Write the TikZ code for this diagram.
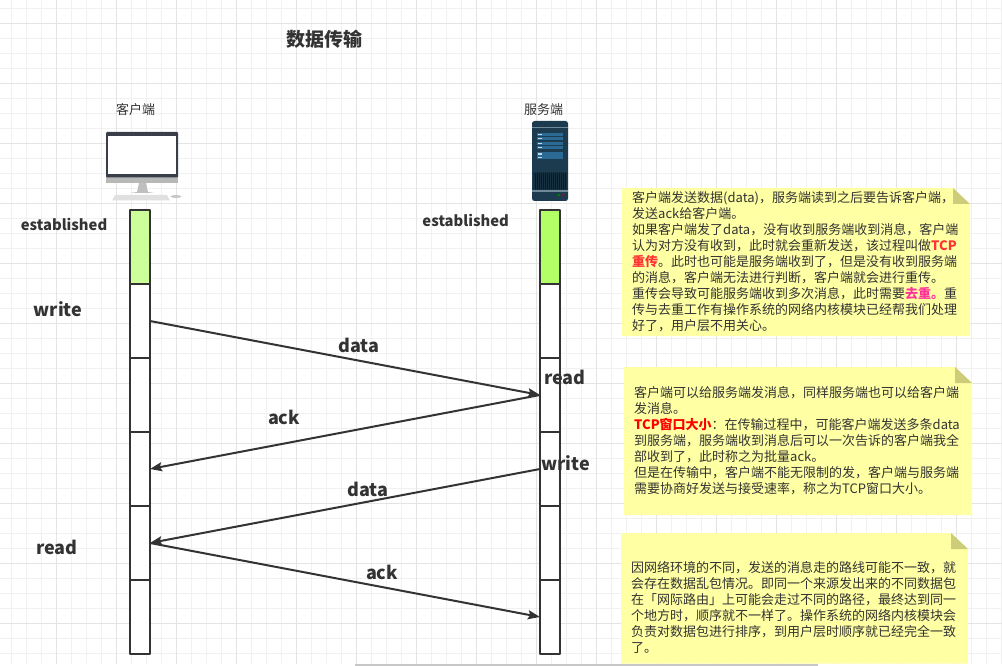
\documentclass[tikz,border=0pt]{standalone}
\usepackage{fontspec}
\setmainfont{Noto Sans CJK SC}
\usetikzlibrary{positioning,arrows.meta}

\definecolor{inkc}{HTML}{333333}
\definecolor{gridminor}{HTML}{F1F1F1}
\definecolor{gridmajor}{HTML}{E4E4E4}
\definecolor{notefill}{HTML}{FFFFA3}
\definecolor{notefold}{HTML}{CCCC7A}
\definecolor{greenc}{HTML}{CCFF99}
\definecolor{greens}{HTML}{B3FF66}
\definecolor{tcpred}{HTML}{FF3333}
\definecolor{dedupc}{HTML}{FF3399}
\definecolor{racklight}{HTML}{6E8A9A}
\definecolor{rackbody}{HTML}{1C3B4E}
\definecolor{rackbar}{HTML}{2A6A94}
\definecolor{rackgrill}{HTML}{17303F}
\definecolor{rackslot}{HTML}{0A1A24}

\tikzset{
    cell/.style={draw=inkc, line width=2pt, fill=white, minimum width=20pt, minimum height=74pt, inner sep=0pt, outer sep=0pt},
    msg/.style={draw=inkc, line width=2pt, -{Stealth[length=12pt,width=9pt,inset=2pt]}},
    biglabel/.style={text=inkc, inner sep=0pt, font=\fontsize{18}{20}\selectfont\bfseries},
    statelabel/.style={text=inkc, inner sep=0pt, font=\fontsize{14.8}{16}\selectfont\bfseries},
    hostlabel/.style={text=inkc, inner sep=0pt, font=\fontsize{13}{15}\selectfont},
    notetext/.style={text=inkc, inner sep=0pt, anchor=west, align=left, font=\fontsize{13}{16}\selectfont},
}

% paper of a note: left, top, right, bottom
\newcommand{\notepaper}[4]{
    \fill[notefill] (#1,#2) -- (#3-17,#2) -- (#3,#2+16) -- (#3,#4) -- (#1,#4) -- cycle;
    \fill[notefold] (#3-17,#2) -- (#3,#2+16) -- (#3-17,#2+16) -- cycle;
}

\begin{document}
\begin{tikzpicture}[x=1pt, y=-1pt, line join=round]
    \useasboundingbox (0,0) rectangle (1002,666);

    % grid
    \foreach \gx in {11.7,26.7,...,1002}
        \draw[gridminor, line width=1pt] (\gx,0) -- (\gx,664);
    \foreach \gy in {8.3,23.3,...,664}
        \draw[gridminor, line width=1pt] (0,\gy) -- (1002,\gy);
    \foreach \gx in {56.7,116.7,...,1002}
        \draw[gridmajor, line width=1pt] (\gx,0) -- (\gx,664);
    \foreach \gy in {23.3,83.3,...,664}
        \draw[gridmajor, line width=1pt] (0,\gy) -- (1002,\gy);
    \draw[black!22, line width=1.2pt] (355,665) -- (818,665);

    \node[text=inkc, inner sep=0pt, font=\fontsize{19}{21}\selectfont\bfseries] (title) at (324,39.5) {数据传输};
    \node[hostlabel] (clientname) at (135.5,110) {客户端};
    \node[hostlabel] (servername) at (543.5,110) {服务端};

    % client computer
    \fill[black!25] (130,193) -- (137,192) -- (139,183) -- (146,183) -- (148,192) -- (154,193) -- cycle;
    \fill[black!12] (115,195) -- (167,195) -- (170,200.5) -- (112,200.5) -- cycle;
    \fill[black!22] (176,196.5) ellipse [x radius=5.5, y radius=1.5];
    \fill[black!28] (106,176) rectangle (178,183);
    \fill[rounded corners=1pt, fill={rgb,255:red,58;green,61;blue,74}] (106,132) rectangle (178,177.5);
    \fill[white] (108,136) rectangle (176,174);

    % server
    \fill[rounded corners=2.5pt, fill=rackbody] (532,121) rectangle (568,201);
    \fill[racklight] (532,127) rectangle (568,128.5);
    \fill[racklight] (532,190.5) rectangle (568,192);
    \fill[rackgrill] (533,172) rectangle (567,190);
    \foreach \gx in {535,537,...,566}
        \draw[rackslot, line width=0.7pt] (\gx,173) -- (\gx,189);
    \foreach \gy in {132.7,136.7,141.7,145.7,152.3,156.2} {
        \fill[rackbar] (537,\gy) rectangle (563,\gy+3.3);
        \fill[white!75!rackbar] (537.7,\gy+1) rectangle (542,\gy+2.3);
    }
    \fill[green!55!black] (558.7,195) circle (1.2);
    \fill[red!75!black] (563.3,195) circle (1.2);

    % client column
    \node[cell, fill=greenc] (c1) at (140,247) {};
    \foreach \i/\j in {2/1,3/2,4/3,5/4,6/5}
        \node[cell, below=0pt of c\j] (c\i) {};

    % server column
    \node[cell, fill=greens] (s1) at (550,247) {};
    \foreach \i/\j in {2/1,3/2,4/3,5/4,6/5}
        \node[cell, below=0pt of s\j] (s\i) {};

    \draw[msg] (c2.east) -- (s3.west);
    \draw[msg] (s3.west) -- (c4.east);
    \draw[msg] (s4.west) -- (c5.east);
    \draw[msg] (c5.east) -- (s6.west);

    \node[statelabel] (estc) at (64,224) {established};
    \node[statelabel] (ests) at (465.7,220.7) {established};
    \node[biglabel] (writec) at (58,309) {write};
    \node[biglabel] (readc) at (57,547) {read};
    \node[biglabel] (reads) at (565,377) {read};
    \node[biglabel] (writes) at (565.5,462.7) {write};
    \node[biglabel] (data1) at (359,345) {data};
    \node[biglabel] (ack1) at (284,417) {ack};
    \node[biglabel] (data2) at (368,489) {data};
    \node[biglabel] (ack2) at (382,572.7) {ack};

    % notes
    \notepaper{622}{188}{970}{336}
    \node[notetext] (note1) at (632,262) {客户端发送数据(data)，服务端读到之后要告诉客户端，\\
        发送ack给客户端。\\
        如果客户端发了data，没有收到服务端收到消息，客户端\\
        认为对方没有收到，此时就会重新发送，该过程叫做\textcolor{tcpred}{\textbf{TCP}}\\
        \textcolor{tcpred}{\textbf{重传}}。此时也可能是服务端收到了，但是没有收到服务端\\
        的消息，客户端无法进行判断，客户端就会进行重传。\\
        重传会导致可能服务端收到多次消息，此时需要\textcolor{dedupc}{\textbf{去重。}}重\\
        传与去重工作有操作系统的网络内核模块已经帮我们处理\\
        好了，用户层不用关心。};

    \notepaper{624}{367}{972}{515}
    \node[notetext] (note2) at (634,441) {客户端可以给服务端发消息，同样服务端也可以给客户端\\
        发消息。\\
        \textcolor{red}{\textbf{TCP窗口大小}}：在传输过程中，可能客户端发送多条data\\
        到服务端，服务端收到消息后可以一次告诉的客户端我全\\
        部收到了，此时称之为批量ack。\\
        但是在传输中，客户端不能无限制的发，客户端与服务端\\
        需要协商好发送与接受速率，称之为TCP窗口大小。};

    \notepaper{621}{533}{968}{663.5}
    \node[notetext] (note3) at (631,607.5) {因网络环境的不同，发送的消息走的路线可能不一致，就\\
        会存在数据乱包情况。即同一个来源发出来的不同数据包\\
        在「网际路由」上可能会走过不同的路径，最终达到同一\\
        个地方时，顺序就不一样了。操作系统的网络内核模块会\\
        负责对数据包进行排序，到用户层时顺序就已经完全一致\\
        了。};
\end{tikzpicture}
\end{document}
